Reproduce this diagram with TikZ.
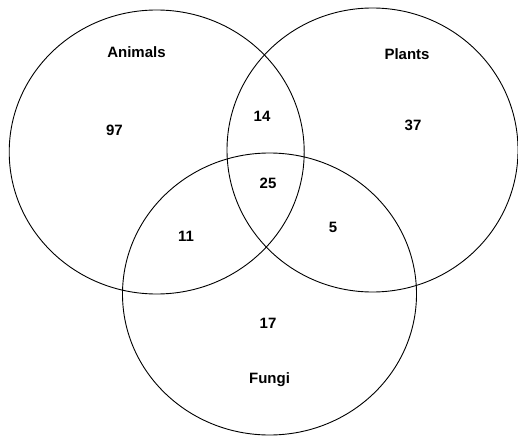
\documentclass[tikz,border=0pt]{standalone}
\usepackage{fontspec}
\setmainfont{Liberation Sans}
\begin{document}
\begin{tikzpicture}[x=1pt,y=-1pt,
  setbox/.style={draw=black,line width=0.9pt},
  lbl/.style={font=\fontsize{15}{18}\selectfont\bfseries,inner sep=0pt}]
\useasboundingbox (0,0) rectangle (518,438);
\draw[setbox] (156.7,152) ellipse [x radius=147.5, y radius=142];
\draw[setbox] (372.5,150) ellipse [x radius=145.5, y radius=142];
\draw[setbox] (269.5,294) ellipse [x radius=147, y radius=141];
\node[lbl] (animals) at (136.5,52) {Animals};
\node[lbl] (plants) at (407,54) {Plants};
\node[lbl] (fungi) at (269.5,380) {Fungi};
\node[lbl] (n97) at (114.5,130) {97};
\node[lbl] (n14) at (262,116) {14};
\node[lbl] (n37) at (413,125) {37};
\node[lbl] (n25) at (268,183) {25};
\node[lbl] (n11) at (186,236) {11};
\node[lbl] (n5) at (333,227) {5};
\node[lbl] (n17) at (268,323) {17};
\end{tikzpicture}
\end{document}
